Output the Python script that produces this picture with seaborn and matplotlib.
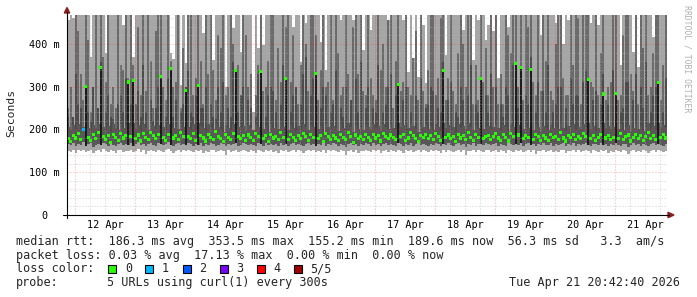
import numpy as np
import pandas as pd
import matplotlib
matplotlib.use("Agg")
import matplotlib.pyplot as plt
import seaborn as sns
from matplotlib.patches import Rectangle, Polygon
from matplotlib.lines import Line2D

# ---------------- data (one column = one hour, starting 2026-04-11 20:42:40) ----------------
start_time = "2026-04-11 20:42:40"
day_labels = ["12 Apr", "13 Apr", "14 Apr", "15 Apr", "16 Apr",
              "17 Apr", "18 Apr", "19 Apr", "20 Apr", "21 Apr"]
y_ticks_ms = [0, 100, 200, 300, 400]
y_tick_labels = ["0  ", "100 m", "200 m", "300 m", "400 m"]

# lowest ping of the smoke (ms)
smoke_min = [
    150,148,152,146,151,149,153,147,150,152,145,149,151,148,154,150,147,152,149,146,151,153,148,150,
    149,152,147,150,155,148,151,142,150,153,149,147,152,150,148,151,154,149,146,150,152,148,151,149,
    153,150,147,151,149,152,146,150,148,153,151,147,149,152,150,141,151,148,150,153,147,149,152,150,
    148,151,149,146,152,150,147,153,149,151,148,150,146,152,149,151,147,150,153,148,151,149,146,150,
    152,149,151,147,150,148,153,146,151,149,152,150,147,151,149,140,150,152,148,151,146,150,149,153,
    150,147,152,149,151,146,150,153,148,151,149,147,152,150,146,151,149,153,147,150,152,148,151,149,
    147,151,149,152,150,146,151,148,153,149,147,150,152,148,151,141,150,149,152,147,151,150,148,152,
    151,148,150,153,147,151,149,146,152,150,148,151,149,153,147,150,152,148,151,143,150,149,152,148,
    149,152,147,150,148,151,153,146,150,149,152,147,151,148,150,153,149,146,151,150,148,152,149,151,
    146,150,148,152,149,147,151,150,142,149,152,148,150,147,151,149,146,150,153,148,151,149,147,150,
]
# lower edge of the dense inner smoke (ms)
band_lo = [
    166,163,168,162,167,164,170,161,165,168,160,164,167,163,169,165,162,168,164,161,166,169,163,165,
    164,168,162,166,170,163,167,161,165,169,164,162,168,165,163,167,170,164,161,166,168,163,167,164,
    169,165,162,167,164,168,161,166,163,169,167,162,164,168,165,161,167,163,166,169,162,164,168,165,
    163,167,164,161,168,165,162,169,164,167,163,166,161,168,164,167,162,166,169,163,167,164,161,166,
    168,164,167,162,166,163,169,161,167,164,168,165,162,167,164,159,166,168,163,167,161,166,164,169,
    165,162,168,164,167,161,166,169,163,167,164,162,168,166,161,167,164,169,162,166,168,163,167,164,
    162,167,164,168,166,161,167,163,169,164,162,166,168,163,167,158,166,164,168,162,167,166,163,168,
    167,163,166,169,162,167,164,161,168,166,163,167,164,169,162,166,168,163,167,161,166,164,168,163,
    164,168,162,166,163,167,169,161,166,164,168,162,167,163,166,169,164,161,167,166,163,168,164,167,
    161,166,163,168,164,162,167,166,160,164,168,163,166,162,167,164,161,166,169,163,167,164,162,166,
]
# upper edge of the dense inner smoke (ms)
band_hi = [
    205,198,210,202,214,200,207,215,203,196,211,204,212,215,206,199,209,195,213,204,198,212,203,208,
    215,206,215,201,210,197,213,204,199,215,208,202,211,215,205,198,212,215,203,209,200,214,206,215,
    207,201,213,198,215,209,203,196,212,205,200,215,207,202,195,211,204,199,213,215,206,201,209,197,
    210,204,198,213,206,215,201,209,195,212,203,207,200,215,205,215,199,211,204,197,209,202,214,206,
    198,211,205,215,202,208,195,213,206,200,209,203,197,212,204,199,215,207,193,210,202,206,199,211,
    205,198,212,203,209,196,214,207,201,210,204,199,215,206,211,197,203,215,208,201,194,209,205,212,
    202,208,199,213,206,197,215,204,210,201,207,195,212,203,209,200,215,205,198,211,204,215,202,207,
    209,200,206,213,203,198,211,205,196,214,207,215,210,215,201,208,204,215,199,212,206,197,209,203,
    198,211,204,207,200,215,203,196,209,205,212,199,207,202,214,206,215,201,209,197,204,211,215,203,
    208,200,205,215,202,213,199,207,210,196,204,212,201,209,197,206,215,202,208,199,215,205,211,203,
]
# median rtt (ms)
median_ms = [
    178,172,185,180,190,176,200,300,181,174,188,179,192,344,184,177,186,170,189,182,175,191,180,185,
    311,183,314,178,187,173,190,181,176,194,185,179,188,323,182,175,189,342,180,186,177,192,183,292,
    184,178,191,175,302,186,180,173,189,182,177,195,184,179,172,188,181,176,190,337,183,178,186,174,
    187,181,175,190,183,335,178,186,172,189,180,184,177,193,182,320,176,188,181,174,186,179,191,183,
    175,188,182,330,179,185,172,190,183,177,186,180,174,189,181,176,192,184,170,187,179,183,176,188,
    182,175,189,180,186,173,191,184,178,187,181,176,306,183,188,174,180,192,185,178,171,186,182,189,
    179,185,176,190,183,174,337,181,187,178,184,172,189,180,186,177,193,182,175,188,181,320,179,184,
    186,177,183,190,180,175,188,182,173,191,184,355,187,345,178,185,181,340,176,189,183,174,186,180,
    175,188,181,184,177,192,180,173,186,182,189,176,184,179,191,183,316,178,186,174,181,188,283,180,
    185,177,182,285,179,190,176,184,187,173,181,189,178,186,174,183,192,179,185,176,310,182,188,180,
]
# lost pings per sample (of 5)
loss_count = [0] * 6 + [1] + [0] * 233
# outer (lighter) smoke stripes above the band, 0 = none (ms)
upper_outer = [
    250,300,0,500,430,330,270,500,410,240,280,500,240,500,370,310,500,260,300,250,500,350,340,500,
    320,500,350,260,440,280,500,290,500,360,250,430,500,500,300,270,500,360,300,310,500,250,390,280,
    500,500,280,320,500,360,260,500,330,500,340,270,420,390,500,280,300,500,400,260,350,250,500,420,
    300,330,0,280,350,500,290,300,360,500,500,270,390,310,500,440,500,310,420,270,260,350,500,400,
    290,500,500,420,270,340,500,300,310,500,270,500,380,280,300,500,330,260,440,500,330,500,290,280,
    500,320,280,270,500,340,400,300,500,500,250,360,500,290,310,500,300,280,500,430,270,500,290,260,
    340,500,500,280,320,460,500,270,320,500,290,260,380,500,400,300,500,500,260,350,270,500,310,390,
    280,500,300,500,260,330,260,500,420,380,500,500,300,500,270,500,440,500,310,280,500,290,500,360,
    500,290,270,400,500,500,320,280,280,500,350,500,460,260,500,500,500,310,300,500,280,380,500,270,
    300,310,500,500,270,280,420,500,500,330,290,500,260,500,390,500,280,300,380,500,500,270,350,500,
]
# inner (darker) smoke stripes above the band, 0 = none (ms)
upper_inner = [
    230,0,230,330,260,250,0,270,240,220,300,0,250,360,0,240,280,230,225,0,260,280,240,320,
    240,260,260,0,290,230,350,240,0,270,220,250,300,250,0,230,320,0,230,270,0,240,260,300,
    340,240,230,280,0,250,250,300,0,260,230,225,300,240,310,0,250,230,360,0,240,280,300,0,
    270,250,0,230,330,260,0,230,280,300,290,240,0,260,350,230,0,240,280,300,0,260,330,370,
    0,280,320,240,0,250,300,280,0,240,260,340,0,250,230,300,0,270,0,320,240,360,0,250,
    300,0,250,240,350,0,240,260,300,330,0,280,260,0,270,300,0,240,0,280,0,320,0,250,
    260,300,290,0,250,240,360,0,270,310,0,240,230,300,270,0,280,350,0,260,240,300,0,280,
    240,330,0,300,0,260,230,300,280,0,350,320,250,300,0,280,260,370,0,240,310,0,290,240,
    350,0,240,260,300,300,0,250,0,320,260,280,280,0,310,340,250,0,270,290,0,260,330,0,
    260,0,340,270,0,240,250,310,310,0,270,330,0,300,250,360,0,240,280,300,300,0,240,320,
]
# highest ping of the smoke (ms); 500 = beyond the top of the graph
smoke_max = [
    455,500,460,500,500,500,500,500,500,370,500,500,500,500,500,380,500,500,500,500,500,500,445,500,
    500,500,370,500,500,500,500,500,500,500,500,500,500,500,500,500,500,380,365,500,500,305,500,355,
    500,500,500,500,500,500,425,500,500,500,362,500,500,500,500,300,500,500,437,500,500,381,500,500,
    500,500,240,500,390,500,398,500,500,500,500,500,500,500,500,500,500,500,440,500,500,358,500,450,
    500,500,500,500,500,405,500,340,500,500,500,500,500,455,500,500,500,500,455,500,500,500,386,500,
    500,433,500,500,500,500,500,500,455,500,500,500,500,500,455,500,335,500,367,500,323,500,445,309,
    500,500,500,500,500,500,500,374,500,500,500,500,500,500,433,500,500,500,363,500,455,500,500,410,
    445,500,430,500,320,500,500,500,440,500,500,500,500,500,500,500,500,500,500,500,500,420,500,500,
    500,500,500,450,500,500,400,500,455,500,500,500,500,500,500,500,500,450,500,500,445,500,500,500,
    500,500,500,500,500,350,500,500,500,500,381,500,346,500,500,500,500,500,417,500,500,500,500,500,
]

loss_labels = ["0", "1", "2", "3", "4", "5/5"]
loss_colors = ["#26ff00", "#00b8ff", "#0059ff", "#7e00ff", "#ff0000", "#a10000"]

legend_rows = [
    "median rtt:  186.3 ms avg  353.5 ms max  155.2 ms min  189.6 ms now  56.3 ms sd   3.3  am/s",
    "packet loss: 0.03 % avg  17.13 % max  0.00 % min  0.00 % now",
]
probe_text = "5 URLs using curl(1) every 300s"
stamp_text = "Tue Apr 21 20:42:40 2026"

# ---------------- figure ----------------
sns.set_theme(style="white")
plt.rcParams["font.family"] = ["DejaVu Sans Mono", "DejaVu Sans"]

W, H = 697, 297
fig = plt.figure(figsize=(W / 100, H / 100), dpi=100)
fig.patch.set_facecolor("white")
L, T, PW, PH = 67, 15, 600, 200
ax = fig.add_axes([L / W, 1 - (T + PH) / H, PW / W, PH / H])
ax.set_facecolor("white")

def fx(px):
    return px / W

def fy(py):
    return 1 - py / H

n = len(median_ms)
x = np.arange(n)
smin = np.array(smoke_min, float)
smax = np.array(smoke_max, float)
blo = np.array(band_lo, float)
bhi = np.array(band_hi, float)
med = np.array(median_ms, float)
uo = np.minimum(np.array(upper_outer, float), smax)
ui = np.minimum(np.array(upper_inner, float), smax)

YMAX = 467.8
# light smoke
ax.bar(x, smax - smin, bottom=smin, width=1.0, align="edge",
       color="#a6a6a6", linewidth=0, zorder=1.0)
# outer stripes
m = uo > bhi
ax.bar(x[m] + 0.5, uo[m] - bhi[m], bottom=bhi[m], width=0.62,
       color="#6a6a6a", linewidth=0, zorder=1.1)
# inner stripes
m = ui > bhi
ax.bar(x[m] + 0.5, ui[m] - bhi[m], bottom=bhi[m], width=0.62,
       color="#4c4c4c", linewidth=0, zorder=1.2)
# dense band
ax.bar(x, bhi - blo, bottom=blo, width=1.0, align="edge",
       color="#585858", linewidth=0, zorder=1.3)
# high-median columns
m = med > bhi + 20
ax.bar(x[m] + 0.5, med[m] - blo[m], bottom=blo[m], width=0.8,
       color="#1c1c1c", linewidth=0, zorder=1.4)

# median coloured by loss (seaborn)
df = pd.DataFrame({"t": x + 0.5, "median": med,
                   "loss": [loss_labels[c] for c in loss_count]})
sns.scatterplot(data=df, x="t", y="median", hue="loss",
                palette=dict(zip(loss_labels, loss_colors)),
                marker="s", s=5, linewidth=0, legend=False, ax=ax, zorder=3)

# axes ranges
t0 = pd.Timestamp(start_time)
midnights = [(pd.Timestamp("2026-04-12") + pd.Timedelta(days=k) - t0) / pd.Timedelta(hours=1)
             for k in range(len(day_labels))]
noons = [mm + 12 for mm in midnights]
ax.set_xlim(0, n)
ax.set_ylim(0, YMAX)

# grid (on top of the smoke, like rrdtool)
minor_kw = dict(color="#b0b0b0", alpha=0.6, lw=0.72, ls=(0, (1, 2)), zorder=2.5)
major_kw = dict(color="#ff0000", alpha=0.33, lw=0.72, ls=(0, (1, 2)), zorder=2.6)
for mm in midnights:
    for k in (1, 2, 3):
        if mm + 6 * k < n:
            ax.axvline(mm + 6 * k, **minor_kw)
    ax.axvline(mm, **major_kw)
for v in range(20, 470, 20):
    if v % 100:
        ax.axhline(v, **minor_kw)
for v in y_ticks_ms[1:]:
    ax.axhline(v, **major_kw)

ax.set_xticks(noons)
ax.set_xticklabels(day_labels)
ax.set_yticks(y_ticks_ms)
ax.set_yticklabels(y_tick_labels)
ax.tick_params(axis="x", length=0, pad=3.6, labelsize=7.3, colors="black")
ax.tick_params(axis="y", length=0, pad=5.0, labelsize=7.3, colors="black")
ax.set_xlabel("")
ax.set_ylabel("")
for s in ax.spines.values():
    s.set_visible(False)
ax.grid(False)

# axis lines and arrows
fig.add_artist(Line2D([fx(63), fx(669)], [fy(215), fy(215)], color="black", lw=0.8,
                      transform=fig.transFigure))
fig.add_artist(Line2D([fx(67), fx(67)], [fy(218), fy(12)], color="black", lw=0.8,
                      transform=fig.transFigure))
arrow_c = "#8b1c1c"
fig.add_artist(Polygon([(fx(668), fy(212.3)), (fx(674), fy(215)), (fx(668), fy(217.7))],
                       closed=True, color=arrow_c, transform=fig.transFigure))
fig.add_artist(Polygon([(fx(64.3), fy(13)), (fx(67), fy(7.5)), (fx(69.7), fy(13))],
                       closed=True, color=arrow_c, transform=fig.transFigure))

# labels
fig.text(fx(11), fy(113), "Seconds", rotation=90, ha="center", va="center", size=8.2)
fig.text(fx(687.5), fy(59), "RRDTOOL / TOBI OETIKER", rotation=270, ha="center",
         va="center", size=5.9, color="#b0b0b0")

LEG = 8.5
baselines = [245.3, 258.7, 272.2, 285.9]
fig.text(fx(16), fy(baselines[0]), legend_rows[0], size=LEG, va="baseline", ha="left")
fig.text(fx(16), fy(baselines[1]), legend_rows[1], size=LEG, va="baseline", ha="left")
fig.text(fx(16), fy(baselines[2]), "loss color:", size=LEG, va="baseline", ha="left")
for k, (lab, col) in enumerate(zip(loss_labels, loss_colors)):
    bx = 108.3 + 37.1 * k
    fig.add_artist(Rectangle((fx(bx), fy(273.3)), 8 / W, 8 / H, facecolor=col,
                             edgecolor="black", lw=0.8, transform=fig.transFigure))
    fig.text(fx(bx + 16.5), fy(baselines[2]), lab, size=LEG, va="baseline", ha="left")
fig.text(fx(16), fy(baselines[3]), "probe:", size=LEG, va="baseline", ha="left")
fig.text(fx(107), fy(baselines[3]), probe_text, size=LEG, va="baseline", ha="left")
fig.text(fx(680), fy(baselines[3]), stamp_text, size=LEG, va="baseline", ha="right")

fig.savefig("out.png", dpi=100, facecolor="white")
